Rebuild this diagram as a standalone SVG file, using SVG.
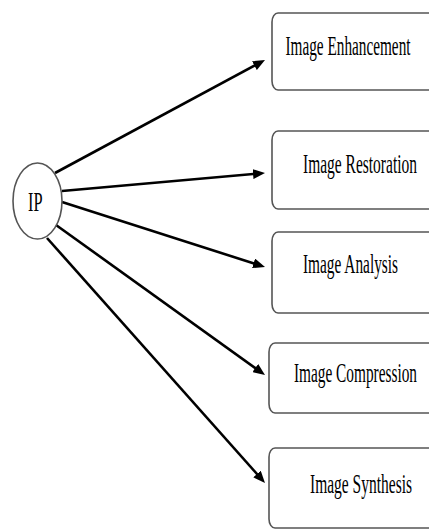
<svg xmlns="http://www.w3.org/2000/svg" width="429" height="531" viewBox="0 0 429 531">
  <style>
    .box { fill: #ffffff; stroke: #555555; stroke-width: 1.6; }
    .lbl { font-family: "Liberation Serif", "Times New Roman", serif; font-size: 27px; fill: #000000; }
    .conn { stroke: #000000; stroke-width: 2.6; fill: none; marker-end: url(#arrow); }
  </style>
  <defs>
    <marker id="arrow" markerUnits="userSpaceOnUse" markerWidth="12" markerHeight="10" refX="4" refY="5" orient="auto" viewBox="0 0 12 10">
      <path d="M0,0 L12,5 L0,10 z" fill="#000000"/>
    </marker>
  </defs>
  <rect width="429" height="531" fill="#ffffff"/>
  <g id="connectors">
    <line class="conn" x1="55" y1="173" x2="257.96" y2="63.79"/>
    <line class="conn" x1="62" y1="191" x2="257.03" y2="173.71"/>
    <line class="conn" x1="62" y1="202" x2="257.38" y2="264.56"/>
    <line class="conn" x1="56" y1="225" x2="258.5" y2="370.34"/>
    <line class="conn" x1="47" y1="238" x2="259.68" y2="477.02"/>
  </g>
  <g id="ip">
    <ellipse cx="37.5" cy="201" rx="24.5" ry="38" fill="#ffffff" stroke="#555555" stroke-width="1.6"/>
    <text class="lbl" transform="translate(28,210.5) scale(0.55,1)" x="0" y="0" font-size="30" textLength="26.4" lengthAdjust="spacingAndGlyphs">IP</text>
  </g>
  <g id="enhancement">
    <rect class="box" x="272" y="13" width="170" height="77" rx="6" ry="9"/>
    <text class="lbl" transform="translate(285.5,55) scale(0.57,1)" x="0" y="0" textLength="219.3" lengthAdjust="spacingAndGlyphs">Image Enhancement</text>
  </g>
  <g id="restoration">
    <rect class="box" x="272" y="131" width="170" height="78" rx="6" ry="9"/>
    <text class="lbl" transform="translate(303,172.5) scale(0.57,1)" x="0" y="0" textLength="200" lengthAdjust="spacingAndGlyphs">Image Restoration</text>
  </g>
  <g id="analysis">
    <rect class="box" x="272" y="232" width="170" height="81" rx="6" ry="9"/>
    <text class="lbl" transform="translate(303,273) scale(0.57,1)" x="0" y="0" textLength="166.7" lengthAdjust="spacingAndGlyphs">Image Analysis</text>
  </g>
  <g id="compression">
    <rect class="box" x="269" y="343" width="175" height="70" rx="6" ry="9"/>
    <text class="lbl" transform="translate(294,382) scale(0.57,1)" x="0" y="0" textLength="215.8" lengthAdjust="spacingAndGlyphs">Image Compression</text>
  </g>
  <g id="synthesis">
    <rect class="box" x="269" y="448" width="175" height="80" rx="6" ry="9"/>
    <text class="lbl" transform="translate(310,493) scale(0.57,1)" x="0" y="0" textLength="179" lengthAdjust="spacingAndGlyphs">Image Synthesis</text>
  </g>
</svg>
